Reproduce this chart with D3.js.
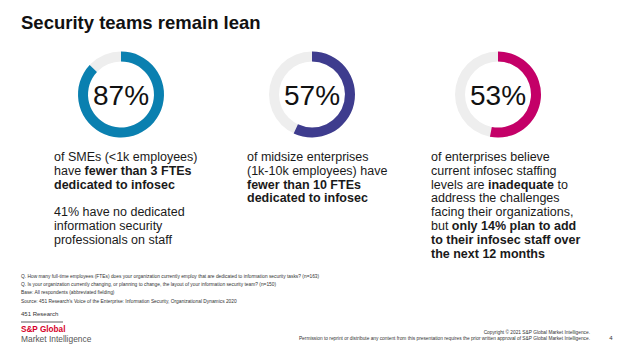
<!DOCTYPE html>
<html>
<head>
<meta charset="utf-8">
<script src="https://cdn.jsdelivr.net/npm/d3@7"></script>
<style>
  body { margin: 0; background: #fff; }
  svg { font-family: "Liberation Sans", Arial, sans-serif; display: block; }
</style>
</head>
<body>
<div id="chart"></div>
<script>
// chart data
const title = "Security teams remain lean";
const shares = [87, 57, 53];
const ringColors = ["#0A80B0", "#3E3C8E", "#C40068"];
const centersX = [121, 312, 498];

// description lines: [text, bold] segments, null = blank line
const captions = [
  [
    [["of SMEs (<1k employees)", false]],
    [["have ", false], ["fewer than 3 FTEs", true]],
    [["dedicated to infosec", true]],
    null,
    [["41% have no dedicated", false]],
    [["information security", false]],
    [["professionals on staff", false]]
  ],
  [
    [["of midsize enterprises", false]],
    [["(1k-10k employees) have", false]],
    [["fewer than 10 FTEs", true]],
    [["dedicated to infosec", true]]
  ],
  [
    [["of enterprises believe", false]],
    [["current infosec staffing", false]],
    [["levels are ", false], ["inadequate", true], [" to", false]],
    [["address the challenges", false]],
    [["facing their organizations,", false]],
    [["but ", false], ["only 14% plan to add", true]],
    [["to their infosec staff over", true]],
    [["the next 12 months", true]]
  ]
];
const captionX = [54, 247, 431];

const notes = [
  "Q. How many full-time employees (FTEs) does your organization currently employ that are dedicated to information security tasks? (n=163)",
  "Q. Is your organization currently changing, or planning to change, the layout of your information security team? (n=150)",
  "Base: All respondents (abbreviated fielding)",
  "Source: 451 Research's Voice of the Enterprise: Information Security, Organizational Dynamics 2020"
];
const copyright = [
  "Copyright \u00A9 2021 S&P Global Market Intelligence.",
  "Permission to reprint or distribute any content from this presentation requires the prior written approval of S&P Global Market Intelligence."
];

const W = 624, H = 351;
const svg = d3.select("#chart").append("svg")
  .attr("width", W)
  .attr("height", H);

// title
svg.append("text")
  .attr("x", 21)
  .attr("y", 29)
  .attr("font-size", 18.5)
  .attr("font-weight", "bold")
  .attr("fill", "#111")
  .text(title);

// donuts
const angle = d3.scaleLinear().domain([0, 100]).range([0, 2 * Math.PI]);
const arc = d3.arc().innerRadius(33).outerRadius(43);

const donuts = svg.selectAll("g.donut")
  .data(shares)
  .enter()
  .append("g")
  .attr("class", "donut")
  .attr("transform", (d, i) => `translate(${centersX[i]},94.5)`);

donuts.append("path")
  .attr("fill", "#EEEEEE")
  .attr("d", arc({ startAngle: 0, endAngle: angle(100) }));

donuts.append("path")
  .attr("fill", (d, i) => ringColors[i])
  .attr("d", d => arc({ startAngle: 0, endAngle: angle(d) }));

donuts.append("text")
  .attr("text-anchor", "middle")
  .attr("y", 10.3)
  .attr("font-size", 28)
  .attr("fill", "#111")
  .text(d => d + "%");

// captions
const lineH = 13.8;
captions.forEach((lines, i) => {
  const t = svg.append("text")
    .attr("font-size", 12.5)
    .attr("fill", "#1a1a1a");
  lines.forEach((segs, j) => {
    if (!segs) return;
    const line = t.append("tspan")
      .attr("x", captionX[i])
      .attr("y", 161 + j * lineH);
    segs.forEach(s => {
      line.append("tspan")
        .attr("font-weight", s[1] ? "bold" : "normal")
        .text(s[0]);
    });
  });
});

// footnotes
svg.append("g").selectAll("text")
  .data(notes)
  .enter()
  .append("text")
  .attr("x", 21)
  .attr("y", (d, i) => 278 + i * 8.2)
  .attr("font-size", 4.85)
  .attr("fill", "#333")
  .text(d => d);

svg.append("text")
  .attr("x", 21)
  .attr("y", 316)
  .attr("font-size", 6)
  .attr("fill", "#333")
  .text("451 Research");

svg.append("line")
  .attr("x1", 21).attr("x2", 63)
  .attr("y1", 322).attr("y2", 322)
  .attr("stroke", "#333")
  .attr("stroke-width", 0.8);

svg.append("text")
  .attr("x", 21)
  .attr("y", 331.5)
  .attr("font-size", 8.2)
  .attr("font-weight", "bold")
  .attr("fill", "#D6002A")
  .text("S&P Global");

svg.append("text")
  .attr("x", 21)
  .attr("y", 342)
  .attr("font-size", 8.4)
  .attr("fill", "#555")
  .text("Market Intelligence");

svg.append("g").selectAll("text")
  .data(copyright)
  .enter()
  .append("text")
  .attr("x", 590)
  .attr("y", (d, i) => 334 + i * 6)
  .attr("text-anchor", "end")
  .attr("font-size", 4.8)
  .attr("fill", "#333")
  .text(d => d);

svg.append("text")
  .attr("x", 611)
  .attr("y", 340)
  .attr("text-anchor", "middle")
  .attr("font-size", 6)
  .attr("fill", "#333")
  .text("4");
</script>
</body>
</html>
